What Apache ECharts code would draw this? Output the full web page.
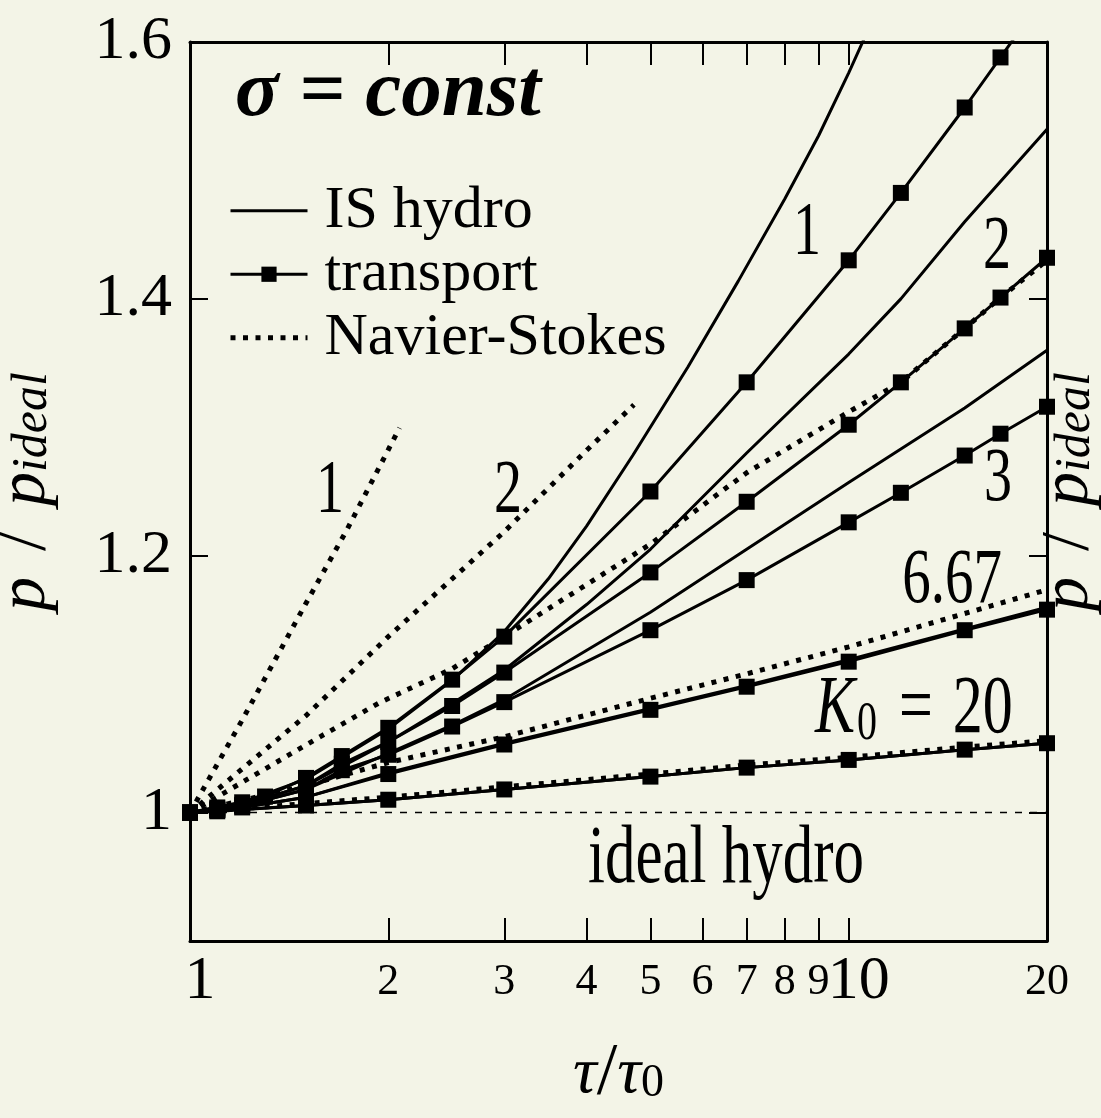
<!DOCTYPE html>
<html>
<head>
<meta charset="utf-8">
<script src="https://cdn.jsdelivr.net/npm/echarts@6/dist/echarts.min.js"></script>
<style>
  html, body { margin: 0; padding: 0; background: #f3f4e7; }
  #chart { width: 1101px; height: 1118px; }
</style>
</head>
<body>
<div id="chart"></div>
<script>
// ---------------- data ----------------
// x: tau/tau0, y: p/p_ideal
const xTickValues  = [2, 3, 4, 5, 6, 7, 8, 9, 10];
const xLabelValues = [1, 2, 3, 4, 5, 6, 7, 8, 9, 10, 20];
const xBigLabels   = [1, 10];
const yTickValues  = [1.0, 1.2, 1.4, 1.6];
const yLabelValues = [1.0, 1.2, 1.4, 1.6];

// IS hydro (solid lines)
const isTauK1  = [1, 1.2, 1.5, 2, 2.5, 3, 3.5, 4, 4.7, 5.7, 6.8, 8, 9, 10, 11];
const isPK1    = [1.000, 1.008, 1.026, 1.065, 1.103, 1.141, 1.182, 1.223, 1.278, 1.347, 1.414, 1.478, 1.527, 1.576, 1.623];
const isTauK2  = [1, 1.2, 1.5, 2, 2.5, 3, 4, 5, 7, 10, 12, 15, 20];
const isPK2    = [1.000, 1.006, 1.021, 1.055, 1.085, 1.111, 1.162, 1.205, 1.280, 1.357, 1.400, 1.460, 1.532];
const isTauK3  = [1, 1.2, 1.5, 2, 2.5, 3, 5, 7, 10, 15, 20];
const isPK3    = [1.000, 1.005, 1.018, 1.046, 1.068, 1.088, 1.156, 1.205, 1.257, 1.315, 1.360];
const isTauK667 = [1, 1.2, 1.5, 2, 3, 5, 7, 10, 15, 20];
const isPK667   = [1.000, 1.004, 1.012, 1.031, 1.054, 1.081, 1.099, 1.119, 1.143, 1.160];
const isTauK20 = [1, 1.5, 2, 3, 5, 7, 10, 15, 20];
const isPK20   = [1.000, 1.0055, 1.010, 1.018, 1.028, 1.035, 1.041, 1.049, 1.054];

// transport (lines with square markers)
const trTauK1  = [1, 1.1, 1.2, 1.3, 1.5, 1.7, 2, 2.5, 3, 5, 7, 10, 12, 15, 17, 20];
const trPK1    = [1.000, 1.004, 1.008, 1.0125, 1.027, 1.044, 1.066, 1.1035, 1.137, 1.250, 1.335, 1.430, 1.4825, 1.549, 1.588, 1.639];
const trTauK2  = [1, 1.1, 1.2, 1.5, 1.7, 2, 2.5, 3, 5, 7, 10, 12, 15, 17, 20];
const trPK2    = [1.000, 1.003, 1.006, 1.021, 1.038, 1.055, 1.083, 1.109, 1.187, 1.242, 1.302, 1.335, 1.377, 1.401, 1.432];
const trTauK3  = [1, 1.1, 1.2, 1.5, 1.7, 2, 2.5, 3, 5, 7, 10, 12, 15, 17, 20];
const trPK3    = [1.000, 1.002, 1.005, 1.018, 1.033, 1.045, 1.067, 1.086, 1.142, 1.181, 1.226, 1.249, 1.278, 1.295, 1.316];
const trTauK667 = [1, 1.1, 1.2, 1.5, 2, 3, 5, 7, 10, 15, 20];
const trPK667   = [1.000, 1.002, 1.004, 1.012, 1.030, 1.053, 1.080, 1.098, 1.1175, 1.142, 1.158];
const trTauK20 = [1, 1.1, 1.5, 2, 3, 5, 7, 10, 15, 20];
const trPK20   = [1.000, 1.001, 1.0055, 1.010, 1.018, 1.028, 1.035, 1.041, 1.049, 1.054];

// Navier-Stokes (dotted lines)
const nsTauK1  = [1, 1.2, 1.5, 1.73, 2, 2.08];
const nsPK1    = [1.000, 1.072, 1.163, 1.220, 1.2825, 1.2996];
const nsTauK2  = [1, 1.2, 1.5, 2, 3, 4, 4.72];
const nsPK2    = [1.000, 1.034, 1.0755, 1.137, 1.2187, 1.282, 1.3175];
const nsTauK3  = [1, 1.15, 1.575, 1.94, 2.5, 3, 5, 7, 10, 12, 15, 17, 20];
const nsPK3    = [1.000, 1.018, 1.059, 1.0856, 1.112, 1.137, 1.209, 1.2646, 1.312, 1.335, 1.377, 1.401, 1.430];
const nsTauK667 = [1, 1.5, 2, 3, 5, 7, 10, 15, 20];
const nsPK667   = [1.000, 1.021, 1.039, 1.059, 1.089, 1.108, 1.129, 1.155, 1.1735];
const nsTauK20 = [1, 1.5, 2, 3, 5, 7, 10, 15, 20];
const nsPK20   = [1.000, 1.007, 1.012, 1.020, 1.030, 1.037, 1.043, 1.051, 1.056];

// ideal hydro
const idealTau = [1, 20];
const idealP   = [1, 1];

// ---------------- chart ----------------
const FONT = 'Liberation Serif';
const BG = '#f3f4e7';
const INK = '#000';
const LOGMAX = Math.log10(20);
const zip = (xs, ys) => xs.map((x, i) => [x, ys[i]]);

function isSeries(tau, p) {
  return { name: 'IS hydro', type: 'line', xAxisIndex: 0, yAxisIndex: 0,
    data: zip(tau, p), symbol: 'none', smooth: false,
    lineStyle: { color: INK, width: 3 }, itemStyle: { color: INK },
    emphasis: { disabled: true }, silent: true, z: 2 };
}
function trSeries(tau, p) {
  return { name: 'transport', type: 'line', xAxisIndex: 0, yAxisIndex: 0,
    data: zip(tau, p), symbol: 'rect', symbolSize: 16, showSymbol: true,
    lineStyle: { color: INK, width: 3 }, itemStyle: { color: INK },
    emphasis: { disabled: true }, silent: true, z: 4 };
}
function nsSeries(tau, p) {
  return { name: 'Navier-Stokes', type: 'line', xAxisIndex: 0, yAxisIndex: 0,
    data: zip(tau, p), symbol: 'none', smooth: false,
    lineStyle: { color: INK, width: 5, type: [5, 7.5], cap: 'butt' }, itemStyle: { color: INK },
    emphasis: { disabled: true }, silent: true, z: 3 };
}

const axisLineStyle = { show: true, onZero: false, lineStyle: { color: INK, width: 3 } };
const tickStyle = { color: INK, width: 2 };

const yNameRich = {
  p:   { fontFamily: FONT, fontStyle: 'italic', fontSize: 68, lineHeight: 64, color: INK, verticalAlign: 'middle' },
  sl:  { fontFamily: FONT, fontSize: 68, lineHeight: 64, color: INK, padding: [0, 26, 0, 26], verticalAlign: 'middle' },
  sub: { fontFamily: FONT, fontStyle: 'italic', fontSize: 50, lineHeight: 32, color: INK, verticalAlign: 'bottom' }
};
const yName = '{p|p}{sl|/}{p|p}{sub|ideal}';

const SY = 1.36;
function ann(text, x, y, size, extra) {
  return Object.assign({ type: 'text', x: x, y: y, scaleY: SY, silent: true, z: 10,
    style: { text: text, fontFamily: FONT, fontSize: size, fill: INK, align: 'center', verticalAlign: 'middle' } }, extra || {});
}

const option = {
  backgroundColor: BG,
  animation: false,
  grid: { left: 190, right: 54, top: 42, bottom: 177, outerBoundsMode: 'none', containLabel: false },
  legend: {
    orient: 'vertical', left: 228, top: 179, padding: 0, itemGap: 0,
    itemWidth: 77, itemHeight: 19, selectedMode: false,
    data: [
      { name: 'IS hydro', itemStyle: { opacity: 0 } },
      { name: 'transport' },
      { name: 'Navier-Stokes', itemStyle: { opacity: 0 } }
    ],
    lineStyle: { width: 'inherit' },
    textStyle: { fontFamily: FONT, fontSize: 60, lineHeight: 63.5, color: INK, padding: [0, 0, 0, 12] }
  },
  xAxis: [
    { type: 'log', logBase: 10, min: 1, max: 20, show: false },
    { type: 'value', min: 0, max: LOGMAX, position: 'bottom',
      axisLine: axisLineStyle, splitLine: { show: false },
      axisTick: { show: true, inside: true, length: 23, lineStyle: tickStyle, customValues: xTickValues.map(Math.log10) },
      axisLabel: { show: true, margin: 11, customValues: xLabelValues.map(Math.log10),
        formatter: function (v) {
          const n = Math.round(Math.pow(10, v));
          return xBigLabels.indexOf(n) >= 0 ? '{b|' + n + '}' : '{s|' + n + '}';
        },
        rich: {
          b: { fontFamily: FONT, fontSize: 62, lineHeight: 60, color: INK, padding: [0, 0, 0, 20] },
          s: { fontFamily: FONT, fontSize: 44, lineHeight: 60, color: INK }
        } },
      name: '{t|τ}{sl|/}{t|τ}{sub|0}', nameLocation: 'middle', nameGap: 102,
      nameTextStyle: { rich: {
        t:   { fontFamily: FONT, fontStyle: 'italic', fontSize: 66, lineHeight: 64, color: INK, verticalAlign: 'middle' },
        sl:  { fontFamily: FONT, fontSize: 74, lineHeight: 64, color: INK, verticalAlign: 'middle' },
        sub: { fontFamily: FONT, fontSize: 46, lineHeight: 30, color: INK, verticalAlign: 'bottom' }
      } } },
    { type: 'value', min: 0, max: LOGMAX, position: 'top',
      axisLine: axisLineStyle, splitLine: { show: false },
      axisTick: { show: true, inside: true, length: 23, lineStyle: tickStyle, customValues: xTickValues.map(Math.log10) },
      axisLabel: { show: false } }
  ],
  yAxis: [
    { type: 'value', min: 0.9, max: 1.6, position: 'left',
      axisLine: axisLineStyle, splitLine: { show: false },
      axisTick: { show: true, inside: true, length: 18, lineStyle: tickStyle, customValues: yTickValues },
      axisLabel: { show: true, margin: 18, customValues: yLabelValues,
        formatter: function (v) { return String(+Number(v).toFixed(1)); },
        fontFamily: FONT, fontSize: 62, color: INK },
      name: yName, nameLocation: 'middle', nameRotate: 90, nameGap: 132,
      nameTextStyle: { rich: yNameRich } },
    { type: 'value', min: 0.9, max: 1.6, position: 'right',
      axisLine: axisLineStyle, splitLine: { show: false },
      axisTick: { show: true, inside: true, length: 18, lineStyle: tickStyle, customValues: yTickValues },
      axisLabel: { show: false },
      name: yName, nameLocation: 'middle', nameRotate: 90, nameGap: -10,
      nameTextStyle: { rich: yNameRich } }
  ],
  series: [
    { name: 'ideal hydro', type: 'line', xAxisIndex: 0, yAxisIndex: 0, data: zip(idealTau, idealP),
      symbol: 'none', lineStyle: { color: INK, width: 1.5, type: [7, 8] }, silent: true, z: 1,
      emphasis: { disabled: true } },
    nsSeries(nsTauK1, nsPK1),
    nsSeries(nsTauK2, nsPK2),
    nsSeries(nsTauK3, nsPK3),
    nsSeries(nsTauK667, nsPK667),
    nsSeries(nsTauK20, nsPK20),
    isSeries(isTauK1, isPK1),
    isSeries(isTauK2, isPK2),
    isSeries(isTauK3, isPK3),
    isSeries(isTauK667, isPK667),
    isSeries(isTauK20, isPK20),
    trSeries(trTauK1, trPK1),
    trSeries(trTauK2, trPK2),
    trSeries(trTauK3, trPK3),
    trSeries(trTauK667, trPK667),
    trSeries(trTauK20, trPK20)
  ],
  graphic: [
    { type: 'text', x: 235, y: 94, silent: true, z: 10,
      style: { text: 'σ = const', fontFamily: FONT, fontStyle: 'italic', fontWeight: 'bold', fontSize: 81,
               fill: INK, align: 'left', verticalAlign: 'middle' } },
    ann('1', 807, 234, 56),
    ann('2', 997, 248, 56),
    ann('3', 998, 480, 56),
    ann('6.67', 952, 582, 57),
    ann('1', 330, 492, 56),
    ann('2', 508, 492, 56),
    ann('ideal hydro', 726, 860, 61),
    { type: 'text', x: 815, y: 711, scaleY: SY, silent: true, z: 10,
      style: { text: '{k|K}{s|0}{e|=}{n|20}', align: 'left', verticalAlign: 'middle',
        rich: {
          k: { fontFamily: FONT, fontStyle: 'italic', fontSize: 60, lineHeight: 60, fill: INK, verticalAlign: 'middle' },
          s: { fontFamily: FONT, fontSize: 40, lineHeight: 26, fill: INK, verticalAlign: 'bottom', padding: [0, 0, 0, 2] },
          e: { fontFamily: FONT, fontSize: 60, lineHeight: 60, fill: INK, verticalAlign: 'middle', padding: [0, 0, 0, 22] },
          n: { fontFamily: FONT, fontSize: 60, lineHeight: 60, fill: INK, verticalAlign: 'middle', padding: [0, 0, 0, 20] }
        } } }
  ]
};

const chart = echarts.init(document.getElementById('chart'));
chart.setOption(option);
</script>
</body>
</html>
